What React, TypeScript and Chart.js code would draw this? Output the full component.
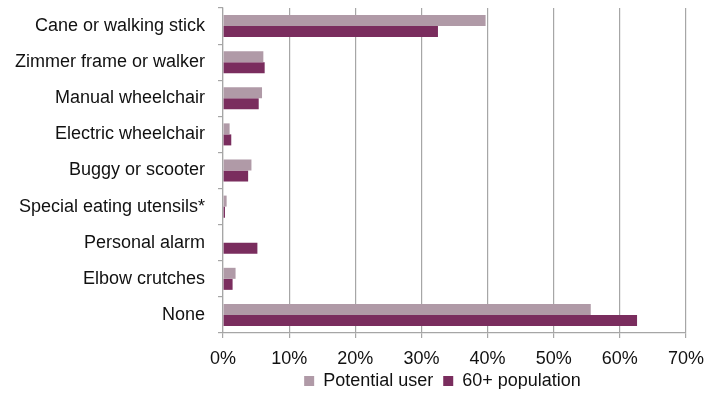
import React, { useEffect, useRef } from "react";
import { Chart, registerables } from "chart.js";

Chart.register(...registerables);

const categories = [
  "Cane or walking stick",
  "Zimmer frame or walker",
  "Manual wheelchair",
  "Electric wheelchair",
  "Buggy or scooter",
  "Special eating utensils*",
  "Personal alarm",
  "Elbow crutches",
  "None",
];
const potentialUser = [39.7, 6.1, 5.9, 1.0, 4.3, 0.55, 0, 1.9, 55.6];
const population60 = [32.5, 6.3, 5.4, 1.25, 3.8, 0.3, 5.2, 1.45, 62.6];
const xTicks = [0, 10, 20, 30, 40, 50, 60, 70];

const FONT = "'Liberation Sans', Arial, sans-serif";

export default function App() {
  const ref = useRef<HTMLCanvasElement | null>(null);
  useEffect(() => {
    document.body.style.margin = "0";
    const legendShift = {
      id: "legendShift",
      afterLayout(chart: any) {
        const lg = chart.legend;
        const ca = chart.chartArea;
        if (!lg || !ca) return;
        const desired = (ca.left + ca.right) / 2 - 12;
        const off = desired - (lg.left + lg.right) / 2;
        lg.left += off;
        lg.right += off;
        const dy = ca.bottom + 29 - lg.top;
        lg.top += dy;
        lg.bottom += dy;
      },
    };
    const chart = new Chart(ref.current as HTMLCanvasElement, {
      type: "bar",
      data: {
        labels: categories,
        datasets: [
          {
            label: "Potential user",
            data: potentialUser,
            backgroundColor: "#b09aa7",
            borderWidth: 0,
          },
          {
            label: "60+ population",
            data: population60,
            backgroundColor: "#7a2d5e",
            borderWidth: 0,
          },
        ],
      },
      options: {
        indexAxis: "y",
        animation: false,
        responsive: false,
        categoryPercentage: 0.61,
        barPercentage: 1,
        layout: { padding: { left: 0, right: 35, top: 8, bottom: 0 } },
        plugins: {
          tooltip: { enabled: false },
          legend: {
            position: "bottom",
            maxHeight: 27,
            labels: {
              boxWidth: 10,
              boxHeight: 10,
              padding: 10,
              color: "#111",
              font: { family: FONT, size: 18 },
            },
          },
        },
        scales: {
          x: {
            min: 0,
            max: 70,
            afterBuildTicks(scale: any) {
              scale.ticks = xTicks.map((v) => ({ value: v }));
            },
            afterFit(scale: any) {
              scale.height = 36;
              scale.paddingLeft = 0;
              scale.paddingRight = 0;
            },
            grid: {
              color: "#a6a6a6",
              lineWidth: 1.2,
              drawTicks: true,
              tickLength: 5,
              tickColor: "#a6a6a6",
            },
            border: { color: "#a6a6a6", width: 1.2 },
            ticks: {
              color: "#111",
              padding: 10,
              font: { family: FONT, size: 18 },
              callback: (v: any) => v + "%",
            },
          },
          y: {
            afterFit(scale: any) {
              scale.width = 223;
              scale.paddingTop = 0;
              scale.paddingBottom = 0;
            },
            grid: {
              display: true,
              drawOnChartArea: false,
              drawTicks: true,
              tickLength: 5,
              tickColor: "#a6a6a6",
              lineWidth: 1.2,
            },
            border: { color: "#a6a6a6", width: 1.2 },
            ticks: {
              color: "#111",
              padding: 13,
              font: { family: FONT, size: 18 },
            },
          },
        },
      },
      plugins: [legendShift],
    });
    return () => chart.destroy();
  }, []);
  return (
    <div style={{ width: 721, height: 396 }}>
      <canvas ref={ref} width={721} height={396} />
    </div>
  );
}
